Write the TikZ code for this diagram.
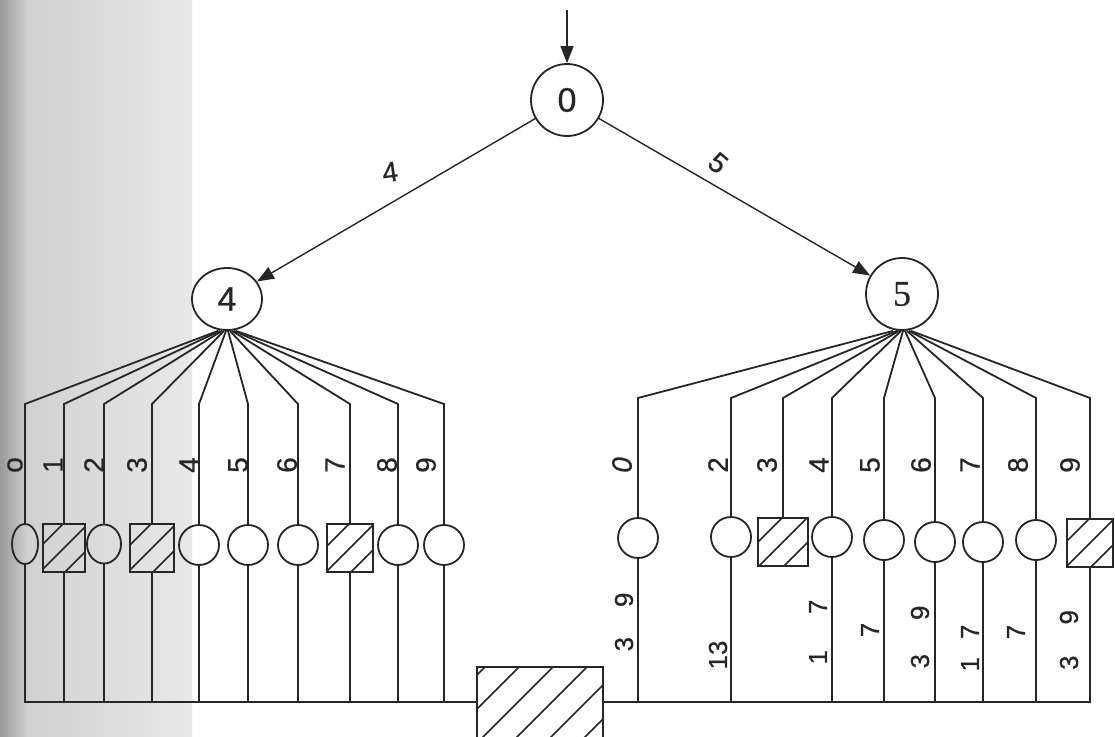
\documentclass[tikz,border=0pt]{standalone}
\usepackage{fontspec}
\setmainfont{Liberation Sans}[FakeBold=0.6]
\newfontfamily\serifdigits{Liberation Serif}[FakeBold=0.4]
\usetikzlibrary{arrows.meta,shapes.geometric,calc}
\begin{document}
\begin{tikzpicture}[x=1pt,y=-1pt,
  ink/.style={draw=black!85, line width=1.8pt},
  state/.style={circle, ink, inner sep=0pt, minimum size=72pt, text=black!85,
    font=\fontsize{34}{34}\selectfont},
  leaf/.style={circle, ink, inner sep=0pt, minimum size=40pt},
  oval/.style={ellipse, ink, inner sep=0pt, minimum width=#1, minimum height=40pt},
  hatchbox/.style={rectangle, ink, inner sep=0pt, path picture={
      \foreach \k in {-8,...,8}
        \draw[black!85, line width=1.5pt]
          ($(path picture bounding box.center)+(\k*#1,0pt)$) ++(-80pt,-80pt) -- ++(160pt,160pt);}},
  digit/.style={font=\fontsize{28}{28}\selectfont, text=black!85, rotate=90, inner sep=0pt},
  cost/.style={font=\fontsize{26}{26}\selectfont, text=black!85, rotate=90, inner sep=0pt},
  elabel/.style={font=\fontsize{28}{28}\selectfont, text=black!85, inner sep=0pt},
  arr/.style={draw=black!85, line width=1.4pt, -{Triangle[length=17pt,width=13pt]}}
]
\useasboundingbox (0,0) rectangle (1115,736);
\clip (0,0) rectangle (1115,736);

% page gutter shadow
\shade[left color=black!40, right color=black!18] (0,0) rectangle (28,736);
\shade[left color=black!18, right color=black!9] (28,0) rectangle (192,736);

% helper levels: shoulders of the fans and the collecting bus
\coordinate (shL) at (0,404);
\coordinate (shR) at (0,398);
\coordinate (bus) at (0,702);
\coordinate (entry) at (567,10);

% decision nodes
\node[state] (n0) at (567,100) {0};
\node[ellipse, ink, inner sep=0pt, minimum width=70pt, minimum height=62pt,
      text=black!85, font=\fontsize{34}{34}\selectfont] (n4) at (227,299) {4};
\node[state, font=\fontsize{36}{36}\serifdigits] (n5) at (902,294) {5};

\draw[arr] (entry) -- (n0);
\draw[arr] (n0) -- (n4);
\draw[arr] (n0) -- (n5);
\node[elabel, rotate=8] (w4) at (390,172) {4};
\node[elabel, rotate=-40] (w5) at (718,163) {5};

% left group of terminals
\node[oval=26pt] (l0) at (25,544) {};
\node[hatchbox=25pt, minimum width=42pt, minimum height=48pt] (l1) at (64,548) {};
\node[oval=34pt, minimum height=39pt] (l2) at (104,544) {};
\node[hatchbox=25pt, minimum width=44pt, minimum height=48pt] (l3) at (152,548) {};
\node[leaf] (l4) at (199,545) {};
\node[leaf] (l5) at (248,545) {};
\node[leaf] (l6) at (298,545) {};
\node[hatchbox=25pt, minimum width=46pt, minimum height=48pt] (l7) at (350,548) {};
\node[leaf] (l8) at (398,545) {};
\node[leaf] (l9) at (444,545) {};

% right group of terminals
\node[leaf] (r0) at (638,538) {};
\node[leaf] (r2) at (731,537) {};
\node[hatchbox=25pt, minimum width=50pt, minimum height=48pt] (r3) at (783,542) {};
\node[leaf] (r4) at (832,537) {};
\node[leaf] (r5) at (884,540) {};
\node[leaf] (r6) at (935,542) {};
\node[leaf] (r7) at (983,542) {};
\node[leaf] (r8) at (1036,540) {};
\node[hatchbox=25pt, minimum width=46pt, minimum height=48pt] (r9) at (1090,543) {};

% common sink
\node[hatchbox=34pt, minimum width=126pt, minimum height=94pt] (big) at (540,714) {};

% fans
\foreach \i in {0,...,9}
  \draw[ink] ([xshift={(\i-4.5)*2pt}]n4.south) -- (l\i.north |- shL) -- (l\i.north);
\foreach \i in {0,2,3,4,5,6,7,8,9}
  \draw[ink] ([xshift={(\i-4.5)*2pt}]n5.south) -- (r\i.north |- shR) -- (r\i.north);

% collecting lines
\draw[ink] (l0.south) |- (big.west |- bus);
\foreach \i in {1,...,9}
  \draw[ink] (l\i.south) -- (l\i.south |- bus);
\draw[ink] (r9.south) |- (big.east |- bus);
\foreach \i in {0,2,4,5,6,7,8}
  \draw[ink] (r\i.south) -- (r\i.south |- bus);

% branch digits
\node[digit] (tl0) at (15,465) {o};
\node[digit] (tl1) at (53,465) {1};
\node[digit] (tl2) at (94,465) {2};
\node[digit] (tl3) at (137,465) {3};
\node[digit] (tl4) at (189,465) {4};
\node[digit] (tl5) at (238,465) {5};
\node[digit] (tl6) at (287,465) {6};
\node[digit] (tl7) at (335,465) {7};
\node[digit] (tl8) at (387,465) {8};
\node[digit] (tl9) at (426,465) {9};

\node[digit] (tr0) at (622,465) {\itshape 0};
\node[digit] (tr2) at (718,465) {2};
\node[digit] (tr3) at (767,465) {3};
\node[digit] (tr4) at (819,465) {4};
\node[digit] (tr5) at (870,465) {5};
\node[digit] (tr6) at (921,465) {6};
\node[digit] (tr7) at (970,465) {7};
\node[digit] (tr8) at (1018,465) {8};
\node[digit] (tr9) at (1070,465) {9};

% costs on the right branches
\node[cost] (c0) at (624,622) {3\hspace{30pt}9};
\node[cost] (c2) at (718,655) {13};
\node[cost] (c4) at (818,632) {1\hspace{36pt}7};
\node[cost] (c5) at (870,630) {7};
\node[cost] (c6) at (920,637) {3\hspace{34pt}9};
\node[cost] (c7) at (970,648) {1\hspace{18pt}7};
\node[cost] (c8) at (1016,632) {7};
\node[cost] (c9) at (1069,640) {3\hspace{31pt}9};
\end{tikzpicture}
\end{document}
